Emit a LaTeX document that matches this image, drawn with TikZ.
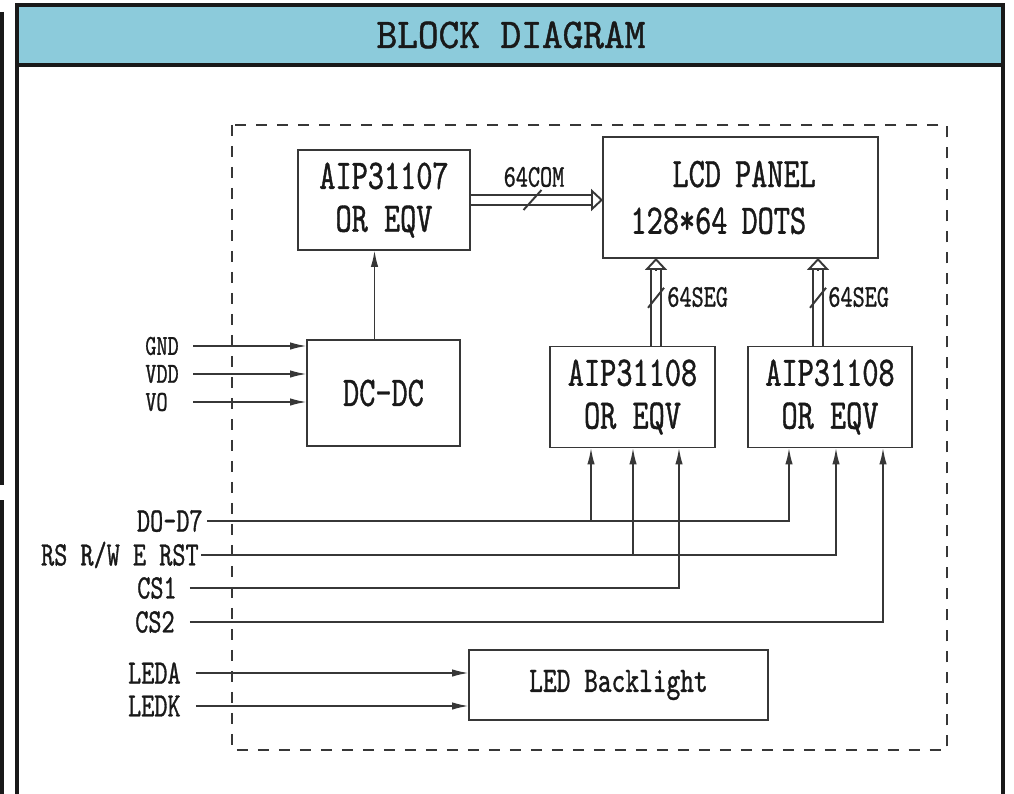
\documentclass[tikz,border=0pt]{standalone}
\usepackage{fontspec}
\usepackage{tikz}
\usetikzlibrary{arrows.meta,positioning,calc}
\newfontfamily\chipfont{lmmono10-regular.otf}[FakeStretch=0.73,FakeBold=0.9]
\newfontfamily\headfont{lmmono10-regular.otf}[FakeStretch=0.93,FakeBold=1]
\definecolor{titleblue}{RGB}{140,203,219}
\definecolor{linec}{RGB}{55,55,55}
\definecolor{inkc}{RGB}{25,25,25}

\begin{document}
\begin{tikzpicture}[
  x=0.02cm, y=-0.02cm,
  box/.style={draw=linec, line width=1.1pt, inner sep=0pt, outer sep=0pt, align=center, text=inkc, font=\chipfont\fontsize{24}{24.4}\selectfont},
  lbl/.style={inner sep=0pt, text=inkc, font=\chipfont\fontsize{19.5}{20}\selectfont},
  small/.style={lbl, font=\chipfont\fontsize{16.5}{17}\selectfont},
  wire/.style={draw=linec, line width=1.1pt},
  arr/.style={wire, -{Latex[length=0.34cm,width=0.15cm]}},
  bus/.style={draw=linec, line width=1.1pt, double=white, double distance=0.16cm},
  bustip/.style={wire, -{Triangle[open,length=0.24cm,width=0.44cm]}}
]
  \useasboundingbox (0,0) rectangle (1014,794);
  \fill[titleblue] (17,5) rectangle (1003,65);
  \draw[line width=2.4pt, inkc] (17,794) -- (17,5) -- (1003,5) -- (1003,794);
  \draw[line width=2.6pt, inkc] (17,65) -- (1003,65);
  \draw[line width=2.2pt, inkc] (2,12) -- (2,485);
  \draw[line width=2.8pt, inkc] (2,500) -- (2,794);
  \node[text=inkc, inner sep=0pt, font=\headfont\fontsize{24.1}{24}\selectfont] (title) at (511,35) {BLOCK DIAGRAM};

  \draw[linec, line width=1.1pt, dash pattern=on 0.22cm off 0.2cm] (232,125) rectangle (947,750);

  \node[box, minimum width=3.44cm, minimum height=2cm] (ctrl) at (384,200) {AIP31107\\OR EQV};
  \node[box, minimum width=5.5cm, minimum height=2.42cm, text width=4.4cm, align=left,
        font=\chipfont\fontsize{24}{26.6}\selectfont] (lcd) at (740.5,197.5) {\hspace*{0.84cm}LCD PANEL\\128*64 DOTS};
  \node[box, minimum width=3.06cm, minimum height=2.12cm] (dcdc) at (383.5,393) {DC-DC};
  \node[box, minimum width=3.3cm, minimum height=2.02cm] (segl) at (632.5,397) {AIP31108\\OR EQV};
  \node[box, minimum width=3.28cm, minimum height=2.02cm] (segr) at (830,397) {AIP31108\\OR EQV};
  \node[box, minimum width=5.98cm, minimum height=1.4cm, font=\chipfont\fontsize{20.4}{21}\selectfont] (led) at (618.5,685) {LED Backlight};

  \node[small, anchor=west] (gnd) at (145,346) {GND};
  \node[small, anchor=west] (vdd) at (145,374) {VDD};
  \node[small, anchor=west] (vo) at (145,402) {VO};
  \node[lbl, anchor=east] (d07) at (203,521) {DO-D7};
  \node[lbl, anchor=east] (rs) at (199,555) {RS R/W E RST};
  \node[lbl, anchor=east] (cs1) at (177,588) {CS1};
  \node[lbl, anchor=east] (cs2) at (175,622) {CS2};
  \node[lbl, anchor=east] (leda) at (181,673) {LEDA};
  \node[lbl, anchor=east] (ledk) at (181,706) {LEDK};
  \node[small, font=\chipfont\fontsize{18}{18}\selectfont] (com) at (534,177) {64COM};
  \node[small, anchor=west, font=\chipfont\fontsize{18}{18}\selectfont] (segla) at (667,297) {64SEG};
  \node[small, anchor=west, font=\chipfont\fontsize{18}{18}\selectfont] (segra) at (828,297) {64SEG};

  \coordinate (inx) at (193,0);
  \coordinate (pl1) at ($(segl.south)+(-41.5,0)$);
  \coordinate (pl2) at ($(segl.south)+(0.5,0)$);
  \coordinate (pl3) at ($(segl.south)+(46.5,0)$);
  \coordinate (pr1) at ($(segr.south)+(-41,0)$);
  \coordinate (pr2) at ($(segr.south)+(6,0)$);
  \coordinate (pr3) at ($(segr.south)+(53,0)$);
  \coordinate (sl) at ($(segl.north)+(23.5,0)$);
  \coordinate (sr) at ($(segr.north)+(-12,0)$);

  \draw[bus] ([xshift=0.02cm]ctrl.east) -- ($(lcd.west |- ctrl.east)+(-12,0)$);
  \draw[bustip] ($(lcd.west |- ctrl.east)+(-12,0)$) -- (lcd.west |- ctrl.east);
  \draw[bus] ([yshift=0.02cm]sl) -- ($(sl |- lcd.south)+(0,12)$);
  \draw[bustip] ($(sl |- lcd.south)+(0,12)$) -- (sl |- lcd.south);
  \draw[bus] ([yshift=0.02cm]sr) -- ($(sr |- lcd.south)+(0,12)$);
  \draw[bustip] ($(sr |- lcd.south)+(0,12)$) -- (sr |- lcd.south);
  \coordinate (comx) at ($(ctrl.east)!0.47!(lcd.west |- ctrl.east)$);
  \coordinate (slx) at ($(sl)!0.55!(sl |- lcd.south)$);
  \coordinate (srx) at ($(sr)!0.55!(sr |- lcd.south)$);
  \draw[wire] ($(comx)+(-9,10)$) -- ($(comx)+(9,-10)$);
  \draw[wire] ($(slx)+(-8,10)$) -- ($(slx)+(8,-10)$);
  \draw[wire] ($(srx)+(-8,10)$) -- ($(srx)+(8,-10)$);

  \draw[arr] ([xshift=-0.18cm]dcdc.north) -- ([xshift=-0.18cm]dcdc.north |- ctrl.south);
  \draw[arr] (gnd -| inx) -- (gnd -| dcdc.west);
  \draw[arr] (vdd -| inx) -- (vdd -| dcdc.west);
  \draw[arr] (vo -| inx) -- (vo -| dcdc.west);

  \draw[arr] ([xshift=0.08cm]d07.east) -| (pr1);
  \draw[arr] (pl1 |- d07.east) -- (pl1);
  \draw[arr] ([xshift=0.04cm]rs.east) -| (pr2);
  \draw[arr] (pl2 |- rs.east) -- (pl2);
  \draw[arr] ([xshift=0.26cm]cs1.east) -| (pl3);
  \draw[arr] ([xshift=0.3cm]cs2.east) -| (pr3);
  \draw[arr] ([xshift=0.3cm]leda.east) -- (leda -| led.west);
  \draw[arr] ([xshift=0.3cm]ledk.east) -- (ledk -| led.west);
\end{tikzpicture}
\end{document}
